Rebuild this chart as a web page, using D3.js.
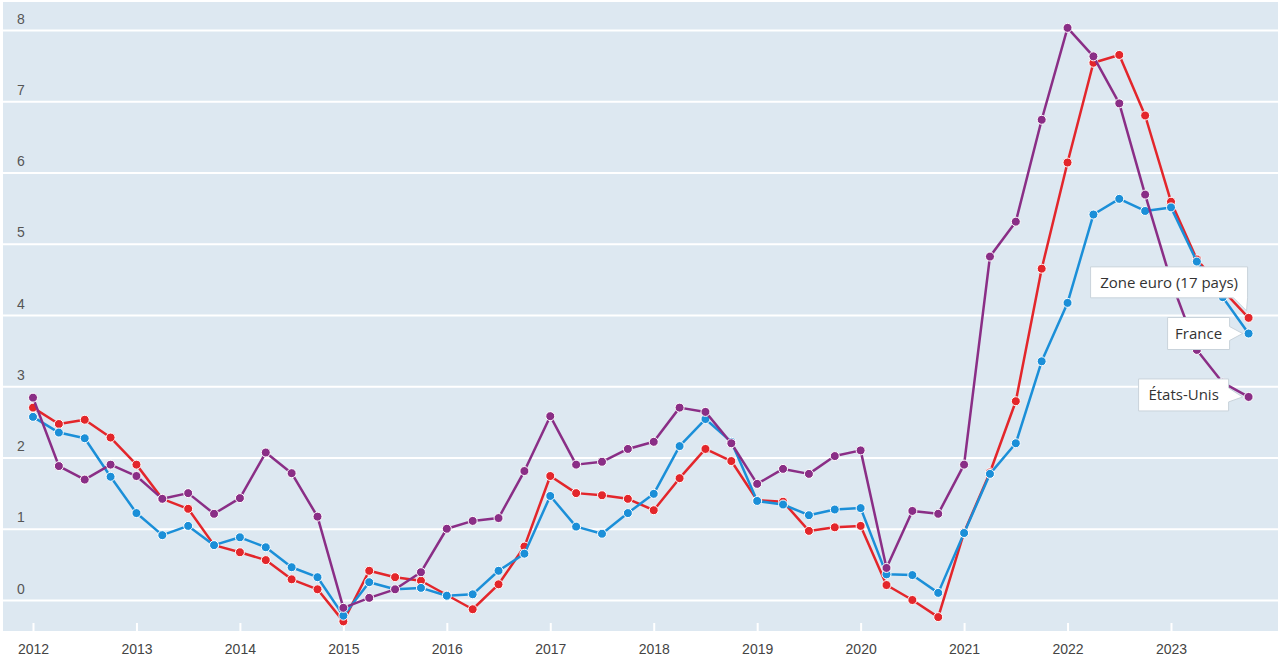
<!DOCTYPE html>
<html>
<head>
<meta charset="utf-8">
<script src="https://cdn.jsdelivr.net/npm/d3@7"></script>
<style>
  body { margin: 0; background: #fff; }
  svg { display: block; font-family: "Open Sans", "Noto Sans", sans-serif; }
</style>
</head>
<body>
<div id="chart"></div>
<script>
// trimestres 2012T1 .. 2023T4
const startYear = 2012;
const years = d3.range(2012, 2024);
const yTicks = [0, 1, 2, 3, 4, 5, 6, 7, 8];

const zoneEuro = [2.70, 2.47, 2.53, 2.28, 1.90, 1.42, 1.28, 0.77, 0.67, 0.56, 0.29, 0.15,
  -0.30, 0.41, 0.32, 0.27, 0.07, -0.13, 0.22, 0.75, 1.74, 1.50, 1.47, 1.42,
  1.26, 1.71, 2.12, 1.95, 1.40, 1.38, 0.97, 1.02, 1.04, 0.21, 0.00, -0.24,
  0.95, 1.79, 2.79, 4.65, 6.14, 7.54, 7.65, 6.80, 5.59, 4.78, 4.35, 3.96];

const france = [2.57, 2.35, 2.27, 1.73, 1.22, 0.91, 1.04, 0.77, 0.88, 0.74, 0.46, 0.32,
  -0.22, 0.25, 0.15, 0.17, 0.06, 0.08, 0.41, 0.65, 1.46, 1.03, 0.93, 1.22,
  1.49, 2.16, 2.54, 2.22, 1.39, 1.34, 1.19, 1.27, 1.29, 0.36, 0.35, 0.10,
  0.94, 1.77, 2.20, 3.35, 4.17, 5.41, 5.63, 5.46, 5.51, 4.75, 4.25, 3.74];

const etatsUnis = [2.84, 1.88, 1.69, 1.90, 1.74, 1.42, 1.50, 1.21, 1.43, 2.07, 1.78, 1.17,
  -0.11, 0.03, 0.15, 0.39, 1.00, 1.11, 1.15, 1.81, 2.58, 1.90, 1.94, 2.12,
  2.22, 2.70, 2.64, 2.20, 1.63, 1.84, 1.77, 2.02, 2.10, 0.45, 1.25, 1.21,
  1.90, 4.82, 5.31, 6.74, 8.03, 7.63, 6.97, 5.69, 4.48, 3.51, 3.05, 2.85];

const series = [
  {name: "Zone euro (17 pays)", values: zoneEuro, color: "#e3262b"},
  {name: "France", values: france, color: "#1b8fd8"},
  {name: "États-Unis", values: etatsUnis, color: "#8a2e86"}
];

const W = 1280, H = 661;
const plot = {left: 3, right: 1278, top: 2, bottom: 631};

const svg = d3.select("#chart").append("svg")
  .attr("width", W)
  .attr("height", H);

const x = d3.scaleLinear().domain([2012, 2023]).range([33, 1171]);
const y = d3.scaleLinear().domain([0, 8]).range([600, 30]);

// fond
svg.append("rect")
  .attr("x", plot.left).attr("y", plot.top)
  .attr("width", plot.right - plot.left)
  .attr("height", plot.bottom - plot.top)
  .attr("fill", "#dde8f1");

// grille horizontale + libellés
const yAxis = svg.append("g")
  .attr("transform", `translate(${plot.left},0)`)
  .call(d3.axisRight(y).tickValues(yTicks).tickSize(plot.right - plot.left).tickFormat(d3.format("d")));
yAxis.select(".domain").remove();
yAxis.selectAll("line").attr("stroke", "#fff").attr("stroke-width", 2);
yAxis.selectAll("text")
  .attr("x", 14)
  .attr("dy", "-0.5em")
  .attr("text-anchor", "start")
  .attr("fill", "#555")
  .style("font-size", "14px");

// axe des années
const xAxis = svg.append("g")
  .attr("transform", `translate(0,${plot.bottom})`)
  .call(d3.axisBottom(x).tickValues(years).tickSize(-8).tickPadding(13).tickFormat(d3.format("d")));
xAxis.select(".domain").remove();
xAxis.selectAll("line").attr("stroke", "#fff").attr("stroke-width", 2);
xAxis.selectAll("text").attr("fill", "#444").style("font-size", "14px");

const t = i => startYear + i / 4;

const line = d3.line()
  .x((d, i) => x(t(i)))
  .y(d => y(d));

series.forEach(s => {
  const g = svg.append("g");
  g.append("path")
    .datum(s.values)
    .attr("fill", "none")
    .attr("stroke", s.color)
    .attr("stroke-width", 2.5)
    .attr("stroke-linejoin", "round")
    .attr("d", line);
  g.selectAll("circle")
    .data(s.values)
    .enter().append("circle")
    .attr("cx", (d, i) => x(t(i)))
    .attr("cy", d => y(d))
    .attr("r", 4.5)
    .attr("fill", s.color)
    .attr("stroke", "#fff")
    .attr("stroke-width", 1);
});

// étiquettes de fin de série
const labelBoxes = [
  {s: 0, w: 157, h: 31, dx: -158, dy: -51, tail: "bottom"},
  {s: 1, w: 62, h: 32, dx: -81, dy: -16, tail: "right"},
  {s: 2, w: 90, h: 32, dx: -110, dy: -18, tail: "right"}
];

labelBoxes.forEach(b => {
  const s = series[b.s];
  const n = s.values.length - 1;
  const px = x(t(n)), py = y(s.values[n]);
  const x0 = px + b.dx, y0 = py + b.dy, x1 = x0 + b.w, y1 = y0 + b.h;
  let p;
  if (b.tail === "bottom") {
    p = `M${x0},${y0}H${x1}V${y1}L${px - 2},${py - 7}L${x1 - 14},${y1}H${x0}Z`;
  } else {
    const cy = (y0 + y1) / 2;
    p = `M${x0},${y0}H${x1}V${cy - 7}L${px - 6},${py}L${x1},${cy + 7}V${y1}H${x0}Z`;
  }
  svg.append("path")
    .attr("d", p)
    .attr("fill", "#fff")
    .attr("stroke", "#c9d3db")
    .attr("stroke-width", 1);
  svg.append("text")
    .attr("x", (x0 + x1) / 2)
    .attr("y", (y0 + y1) / 2)
    .attr("dy", "0.35em")
    .attr("text-anchor", "middle")
    .attr("fill", "#333")
    .style("font-size", "15px")
    .text(s.name);
});
</script>
</body>
</html>
